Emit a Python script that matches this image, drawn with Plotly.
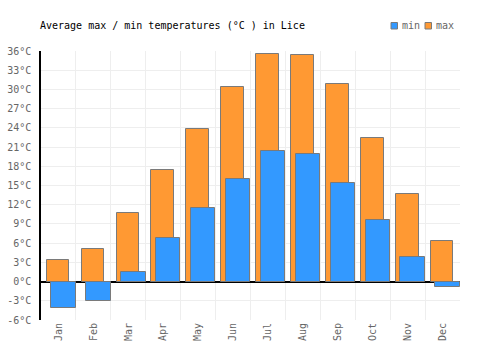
import plotly.graph_objects as go

months = ["Jan", "Feb", "Mar", "Apr", "May", "Jun", "Jul", "Aug", "Sep", "Oct", "Nov", "Dec"]
max_temp = [3.3, 5.1, 10.7, 17.4, 23.8, 30.4, 35.5, 35.3, 30.8, 22.4, 13.6, 6.3]
min_temp = [-4.2, -3.1, 1.5, 6.8, 11.5, 16.0, 20.4, 19.9, 15.4, 9.6, 3.8, -0.9]
y_ticks = list(range(-6, 37, 3))
y_labels = [f"{v}°C" for v in y_ticks]

xs = list(range(len(months)))
font = "DejaVu Sans Mono"
ORANGE = "#ff9933"
BLUE = "#3399ff"
EDGE = "#7a7a7a"

W, H = 500, 350
L, R, T, B = 41, 40, 51, 30
PW, PH = W - L - R, H - T - B


def px(x):
    return (x - L) / PW


def py(y):
    return (H - B - y) / PH


fig = go.Figure()
fig.add_trace(go.Bar(
    x=xs, y=max_temp, name="max", offset=-0.337, width=0.65,
    marker=dict(color=ORANGE, line=dict(color=EDGE, width=1)),
))
fig.add_trace(go.Bar(
    x=xs, y=min_temp, name="min", offset=-0.206, width=0.70,
    marker=dict(color=BLUE, line=dict(color=EDGE, width=1)),
))

# legend drawn manually (compact like the reference)
legend_items = [("min", BLUE, 391, 400), ("max", ORANGE, 425, 434)]
shapes = []
annotations = []
for name, col, sx, tx in legend_items:
    shapes.append(dict(type="rect", xref="paper", yref="paper",
                       x0=px(sx), x1=px(sx + 6.5), y0=py(29), y1=py(22.5),
                       fillcolor=col, line=dict(color=EDGE, width=1)))
    annotations.append(dict(text=name, xref="paper", yref="paper", x=px(tx), y=py(25.5),
                            xanchor="left", yanchor="middle", showarrow=False,
                            font=dict(family=font, size=10, color="#666666")))

fig.update_layout(
    width=W, height=H,
    margin=dict(l=L, r=R, t=T, b=B),
    barmode="overlay",
    plot_bgcolor="white", paper_bgcolor="white",
    font=dict(family=font, size=10, color="#666666"),
    title=dict(text="Average max / min temperatures (°C ) in Lice",
               x=40 / W, xanchor="left", y=1 - 25.5 / H, yanchor="middle",
               font=dict(family=font, size=10, color="#000000")),
    showlegend=False,
    shapes=shapes,
    annotations=annotations,
    xaxis=dict(
        range=[-0.5, 11.5], tickvals=xs, ticktext=months, tickangle=-90,
        showgrid=False, ticks="", showline=False, zeroline=False, automargin=False,
        minor=dict(tick0=-0.5, dtick=1, showgrid=True, gridcolor="#eeeeee", gridwidth=1),
        tickfont=dict(family=font, size=10, color="#666666"),
    ),
    yaxis=dict(
        range=[-6, 36], tickvals=y_ticks, ticktext=y_labels, automargin=False,
        showgrid=True, gridcolor="#eeeeee", gridwidth=1,
        zeroline=True, zerolinecolor="#000000", zerolinewidth=1.5,
        showline=True, linecolor="#000000", linewidth=1.5,
        ticks="", ticklabelstandoff=6,
        tickfont=dict(family=font, size=10, color="#666666"),
    ),
    bargap=0,
)

fig.write_html("out.html")
